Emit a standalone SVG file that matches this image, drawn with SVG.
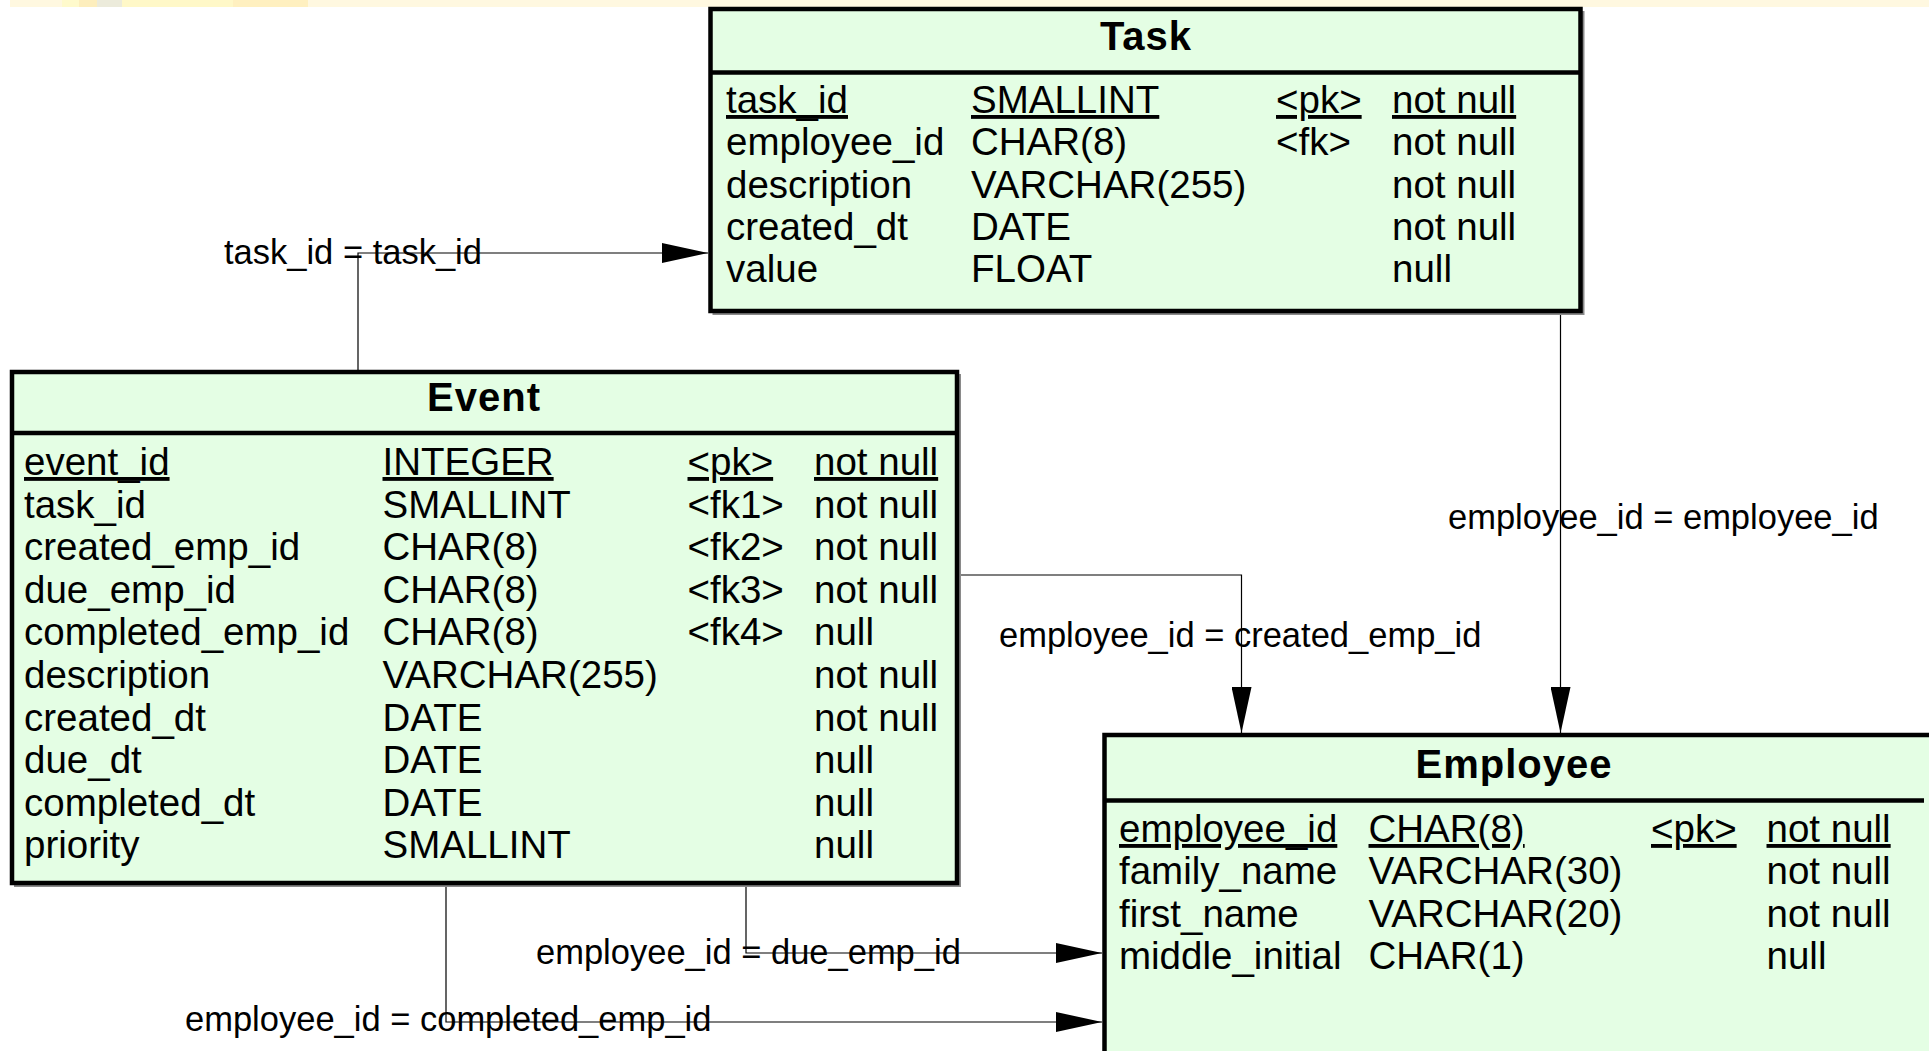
<svg xmlns="http://www.w3.org/2000/svg" width="1929" height="1051" viewBox="0 0 1929 1051">
  <style>
    .box { fill: #e4fee4; stroke: #000; stroke-width: 4.5; }
    .shadow { fill: #8a8a8a; }
    .sep { stroke: #000; stroke-width: 4.5; }
    .title { font-family: "Liberation Sans", Arial, sans-serif; font-size: 40px; font-weight: bold; letter-spacing: 1px; text-anchor: middle; fill: #000; }
    .cell { font-family: "Liberation Sans", Arial, sans-serif; font-size: 38.5px; fill: #000; }
    .key { text-decoration: underline; }
    .link { fill: none; stroke: #000; stroke-width: 1.2; }
    .lbl { font-family: "Liberation Sans", Arial, sans-serif; font-size: 34.5px; fill: #000; }
  </style>
  <defs>
    <marker id="arrow" markerUnits="userSpaceOnUse" markerWidth="46" markerHeight="20" refX="46" refY="10" orient="auto">
      <path d="M0,0 L46,10 L0,20 Z" fill="#000"/>
    </marker>
  </defs>

  <rect width="1929" height="1051" fill="#fff"/>

  <!-- pale band along the top edge -->
  <g id="top-band">
    <rect x="10" y="0" width="1919" height="7" fill="#fff8e0"/>
    <rect x="62" y="0" width="17" height="7" fill="#fffacc"/>
    <rect x="79" y="0" width="18" height="7" fill="#fdeebd"/>
    <rect x="97" y="0" width="25" height="7" fill="#ecebdb"/>
    <rect x="122" y="0" width="111" height="7" fill="#fff8c8"/>
    <rect x="233" y="0" width="75" height="7" fill="#fff0c0"/>
  </g>

  <!-- relationships -->
  <g id="connectors">
    <path class="link" d="M358,372 V253 H708" marker-end="url(#arrow)"/>
    <path class="link" d="M1560.5,313 V733" marker-end="url(#arrow)"/>
    <path class="link" d="M960,575 H1241.5 V733" marker-end="url(#arrow)"/>
    <path class="link" d="M746,886 V953 H1102" marker-end="url(#arrow)"/>
    <path class="link" d="M446,886 V1022 H1102" marker-end="url(#arrow)"/>
    <text class="lbl" x="224" y="264">task_id = task_id</text>
    <text class="lbl" x="1448" y="529">employee_id = employee_id</text>
    <text class="lbl" x="999" y="647">employee_id = created_emp_id</text>
    <text class="lbl" x="536" y="964">employee_id = due_emp_id</text>
    <text class="lbl" x="185" y="1031">employee_id = completed_emp_id</text>
  </g>

  <!-- Task table -->
  <g id="task">
    <rect class="shadow" x="712.5" y="11" width="872" height="304"/>
    <rect class="box" x="710.5" y="9" width="870" height="302"/>
    <line class="sep" x1="710.5" y1="72.5" x2="1580.5" y2="72.5"/>
    <text class="title" x="1146" y="50">Task</text>
    <g class="cell">
      <text x="726" y="113" class="key">task_id</text>
      <text x="971" y="113" class="key">SMALLINT</text>
      <text x="1276" y="113" class="key">&lt;pk&gt;</text>
      <text x="1392" y="113" class="key">not null</text>
      <text x="726" y="155.3">employee_id</text>
      <text x="971" y="155.3">CHAR(8)</text>
      <text x="1276" y="155.3">&lt;fk&gt;</text>
      <text x="1392" y="155.3">not null</text>
      <text x="726" y="197.6">description</text>
      <text x="971" y="197.6">VARCHAR(255)</text>
      <text x="1392" y="197.6">not null</text>
      <text x="726" y="239.9">created_dt</text>
      <text x="971" y="239.9">DATE</text>
      <text x="1392" y="239.9">not null</text>
      <text x="726" y="282.2">value</text>
      <text x="971" y="282.2">FLOAT</text>
      <text x="1392" y="282.2">null</text>
    </g>
  </g>

  <!-- Event table -->
  <g id="event">
    <rect class="shadow" x="14" y="374" width="947" height="513"/>
    <rect class="box" x="12" y="372" width="945" height="511"/>
    <line class="sep" x1="12" y1="433" x2="957" y2="433"/>
    <text class="title" x="484" y="411">Event</text>
    <g class="cell">
      <text x="24" y="475" class="key">event_id</text>
      <text x="382.5" y="475" class="key">INTEGER</text>
      <text x="687.5" y="475" class="key">&lt;pk&gt;</text>
      <text x="814" y="475" class="key">not null</text>
      <text x="24" y="517.6">task_id</text>
      <text x="382.5" y="517.6">SMALLINT</text>
      <text x="687.5" y="517.6">&lt;fk1&gt;</text>
      <text x="814" y="517.6">not null</text>
      <text x="24" y="560.2">created_emp_id</text>
      <text x="382.5" y="560.2">CHAR(8)</text>
      <text x="687.5" y="560.2">&lt;fk2&gt;</text>
      <text x="814" y="560.2">not null</text>
      <text x="24" y="602.8">due_emp_id</text>
      <text x="382.5" y="602.8">CHAR(8)</text>
      <text x="687.5" y="602.8">&lt;fk3&gt;</text>
      <text x="814" y="602.8">not null</text>
      <text x="24" y="645.4">completed_emp_id</text>
      <text x="382.5" y="645.4">CHAR(8)</text>
      <text x="687.5" y="645.4">&lt;fk4&gt;</text>
      <text x="814" y="645.4">null</text>
      <text x="24" y="688">description</text>
      <text x="382.5" y="688">VARCHAR(255)</text>
      <text x="814" y="688">not null</text>
      <text x="24" y="730.6">created_dt</text>
      <text x="382.5" y="730.6">DATE</text>
      <text x="814" y="730.6">not null</text>
      <text x="24" y="773.2">due_dt</text>
      <text x="382.5" y="773.2">DATE</text>
      <text x="814" y="773.2">null</text>
      <text x="24" y="815.8">completed_dt</text>
      <text x="382.5" y="815.8">DATE</text>
      <text x="814" y="815.8">null</text>
      <text x="24" y="858.4">priority</text>
      <text x="382.5" y="858.4">SMALLINT</text>
      <text x="814" y="858.4">null</text>
    </g>
  </g>

  <!-- Employee table (runs past the lower edge) -->
  <g id="employee">
    <rect class="box" x="1104.5" y="735" width="1819.5" height="400"/>
    <line class="sep" x1="1104.5" y1="800.5" x2="1924" y2="800.5"/>
    <text class="title" x="1514" y="778">Employee</text>
    <g class="cell">
      <text x="1119" y="842" class="key">employee_id</text>
      <text x="1368.5" y="842" class="key">CHAR(8)</text>
      <text x="1651" y="842" class="key">&lt;pk&gt;</text>
      <text x="1766.5" y="842" class="key">not null</text>
      <text x="1119" y="884.4">family_name</text>
      <text x="1368.5" y="884.4">VARCHAR(30)</text>
      <text x="1766.5" y="884.4">not null</text>
      <text x="1119" y="926.8">first_name</text>
      <text x="1368.5" y="926.8">VARCHAR(20)</text>
      <text x="1766.5" y="926.8">not null</text>
      <text x="1119" y="969.2">middle_initial</text>
      <text x="1368.5" y="969.2">CHAR(1)</text>
      <text x="1766.5" y="969.2">null</text>
    </g>
  </g>
</svg>
